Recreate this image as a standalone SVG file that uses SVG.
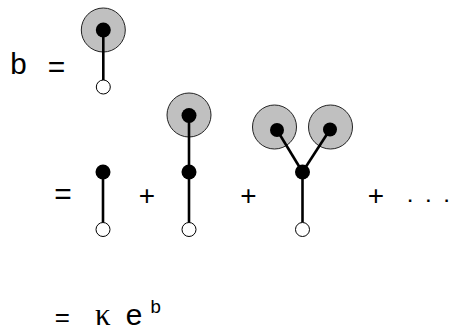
<svg xmlns="http://www.w3.org/2000/svg" width="452" height="333" viewBox="0 0 452 333">
<style>
.halo{fill:#c0c0c0;stroke:#222;stroke-width:1}
.dot{fill:#000}
.root{fill:#fff;stroke:#000;stroke-width:1}
.edge{stroke:#000;stroke-width:2.6;fill:none}
.mono{font-family:"Liberation Mono","Courier New",monospace;fill:#000}
.serif{font-family:"Liberation Serif","Times New Roman",serif;fill:#000}
</style>
<rect width="452" height="333" fill="#fff"/>
<g id="halos">
<circle id="halo-t0" class="halo" cx="103.3" cy="30" r="22"/>
<circle id="halo-t2" class="halo" cx="189" cy="115" r="22"/>
<circle id="halo-t3a" class="halo" cx="274.5" cy="127" r="22"/>
<circle id="halo-t3b" class="halo" cx="330.5" cy="127" r="22"/>
</g>
<g id="connectors">
<line class="edge" x1="103.3" y1="30" x2="103.3" y2="80"/>
<line class="edge" x1="103" y1="172" x2="103" y2="222.5"/>
<line class="edge" x1="189" y1="115.5" x2="189" y2="222.5"/>
<line class="edge" x1="277" y1="130" x2="302.5" y2="172"/>
<line class="edge" x1="330" y1="129.5" x2="302.5" y2="172"/>
<line class="edge" x1="302.5" y1="172" x2="302.5" y2="222.5"/>
</g>
<g id="tree0">
<circle id="t0-leaf" class="dot" cx="103.3" cy="30" r="7.5"/>
<circle id="t0-root" class="root" cx="103.3" cy="87" r="7"/>
</g>
<g id="tree1">
<circle id="t1-leaf" class="dot" cx="103" cy="172" r="7.5"/>
<circle id="t1-root" class="root" cx="103" cy="229.5" r="7"/>
</g>
<g id="tree2">
<circle id="t2-leaf" class="dot" cx="189" cy="115.5" r="7.5"/>
<circle id="t2-mid" class="dot" cx="189" cy="172" r="7.5"/>
<circle id="t2-root" class="root" cx="189" cy="229.5" r="7"/>
</g>
<g id="tree3">
<circle id="t3-leafa" class="dot" cx="277" cy="130" r="7"/>
<circle id="t3-leafb" class="dot" cx="330" cy="129.5" r="7"/>
<circle id="t3-mid" class="dot" cx="302.5" cy="172" r="7.5"/>
<circle id="t3-root" class="root" cx="302.5" cy="229.5" r="7"/>
</g>
<g id="labels">
<text class="mono" x="9.5" y="74" font-size="30">b <tspan x="47.5" dy="3">=</tspan></text>
<text class="mono" x="54" y="204" font-size="30">=</text>
<text class="mono" x="138.6" y="204.5" font-size="28">+</text>
<text class="mono" x="239.9" y="204.5" font-size="28">+</text>
<text class="mono" x="367.6" y="204.5" font-size="28">+</text>
<text class="mono" x="405" y="202" font-size="17" font-weight="bold" letter-spacing="-1.05">. . .</text>
<text class="mono" x="54.5" y="325.5" font-size="26">=</text>
<text class="serif" x="95" y="325" font-size="31">κ</text>
<text class="mono" x="125" y="325" font-size="30">e</text>
<text class="mono" x="150" y="313" font-size="19">b</text>
</g>
</svg>
